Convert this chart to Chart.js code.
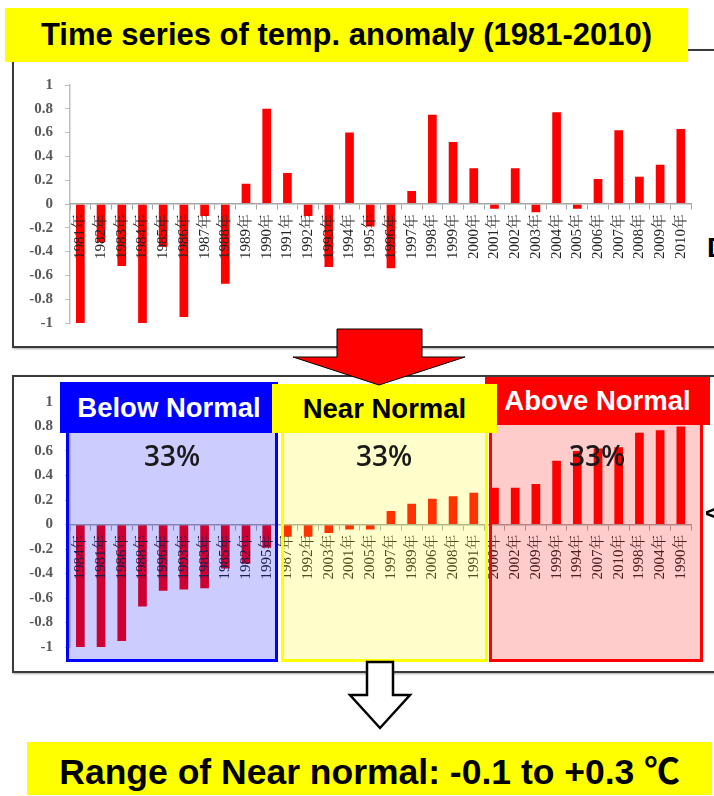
<!DOCTYPE html>
<html>
<head>
<meta charset="utf-8">
<script src="https://cdn.jsdelivr.net/npm/chart.js@4/dist/chart.umd.min.js"></script>
<style>
  html, body { margin: 0; padding: 0; background: #fff; }
  body {
    width: 714px; height: 796px; position: relative; overflow: hidden;
    font-family: 'Liberation Sans', Arial, 'Noto Sans CJK JP', sans-serif;
  }
  .abs { position: absolute; }
  .frame {
    position: absolute; box-sizing: border-box;
    border: 2px solid #3a3a3a; background: #fff;
    box-shadow: 1px 1px 2px rgba(0,0,0,0.35);
  }
  .tag {
    position: absolute; box-sizing: border-box;
    display: flex; align-items: center; justify-content: center;
    font-weight: bold; white-space: nowrap;
  }
  .zone { position: absolute; box-sizing: border-box; border-width: 3px; border-style: solid; }
  .pct {
    position: absolute; width: 100px; margin-left: -50px; text-align: center;
    font-family: 'Open Sans', Lato, sans-serif; font-weight: 600; font-size: 28px; color: #1a1a1a;
    line-height: 30px;
  }
  canvas { position: absolute; }
</style>
</head>
<body>

<!-- upper panel: anomaly by year -->
<div class="frame" style="left:12px; top:49px; width:730px; height:299px;"></div>
<canvas id="series" width="690" height="282" style="left:14px; top:64px;"></canvas>
<div class="tag" style="left:5px; top:8px; width:683px; height:54px; background:#FFFF00; color:#000; font-size:31px;">Time series of temp. anomaly (1981-2010)</div>
<div class="abs" style="left:707px; top:232px; font:bold 28px 'Liberation Sans',sans-serif; color:#000;">D</div>

<!-- lower panel: same years ranked by anomaly -->
<div class="frame" style="left:12px; top:375px; width:730px; height:298px;"></div>
<canvas id="ranked" width="690" height="290" style="left:14px; top:378px;"></canvas>

<div class="zone" style="left:66px; top:382px; width:212px; height:280px; border-color:#0000FF; background:rgba(0,0,255,0.2);"></div>
<div class="zone" style="left:281px; top:386px; width:207px; height:276px; border-color:#FFFF00; background:rgba(255,255,0,0.2);"></div>
<div class="zone" style="left:489px; top:380px; width:214px; height:282px; border-color:#FF0000; background:rgba(255,0,0,0.2);"></div>

<div class="tag" style="left:60px; top:382px; width:218px; height:51px; background:#0000FF; color:#fff; font-size:27.5px;">Below Normal</div>
<div class="tag" style="left:485px; top:377px; width:225px; height:48px; background:#FF0000; color:#fff; font-size:27.5px;">Above Normal</div>
<div class="tag" style="left:272px; top:384px; width:225px; height:49px; background:#FFFF00; color:#000; font-size:27.5px;">Near Normal</div>

<div class="pct" style="left:172px; top:440px;">33%</div>
<div class="pct" style="left:384px; top:440px;">33%</div>
<div class="pct" style="left:597px; top:440px;">33%</div>

<div class="abs" style="left:705px; top:499px; font:bold 24px 'Liberation Sans',sans-serif; color:#000;">&lt;</div>

<!-- arrows between and after the panels -->
<svg class="abs" style="left:0; top:0;" width="714" height="796">
  <polygon points="337,329 422,329 422,357 465,357 379,385 293,357 337,357"
           fill="#FF0000" stroke="#000" stroke-width="1"/>
  <polygon points="367,662 393,662 393,695 410,695 380,728 350,695 367,695"
           fill="#fff" stroke="#000" stroke-width="2.5" stroke-linejoin="miter"/>
</svg>

<div class="tag" style="left:27px; top:742px; width:685px; height:53px; background:#FFFF00; color:#000; font-size:35.5px;">Range of Near normal: -0.1 to +0.3 ℃</div>

<script>
// Yearly temperature anomaly (°C) relative to the 1981-2010 normal
const years = ['1981年','1982年','1983年','1984年','1985年','1986年','1987年','1988年','1989年','1990年',
               '1991年','1992年','1993年','1994年','1995年','1996年','1997年','1998年','1999年','2000年',
               '2001年','2002年','2003年','2004年','2005年','2006年','2007年','2008年','2009年','2010年'];
const anomaly = [-1.00, -0.32, -0.52, -1.01, -0.36, -0.95, -0.10, -0.67, 0.17, 0.80,
                  0.26, -0.10, -0.53, 0.60, -0.19, -0.54, 0.11, 0.75, 0.52, 0.30,
                 -0.04, 0.30, -0.07, 0.77, -0.04, 0.21, 0.62, 0.23, 0.33, 0.63];

// The same years ordered from coldest to warmest (three groups of ten)
const rankedYears = ['1984年','1981年','1986年','1988年','1996年','1993年','1983年','1985年','1982年','1995年',
                     '1987年','1992年','2003年','2001年','2005年','1997年','1989年','2006年','2008年','1991年',
                     '2000年','2002年','2009年','1999年','1994年','2007年','2010年','1998年','2004年','1990年'];
const rankedAnomaly = rankedYears.map(y => anomaly[years.indexOf(y)]);

// y-axis range and tick spacing
const yMin = -1, yMax = 1, yStep = 0.2;

const serif = "'Liberation Serif', 'DejaVu Serif', 'Noto Serif CJK SC', 'Noto Sans CJK SC', serif";

function anomalyChart(id, labels, values, padding) {
  return new Chart(document.getElementById(id), {
    type: 'bar',
    data: {
      labels: labels,
      datasets: [{
        data: values,
        backgroundColor: '#FF0000',
        borderWidth: 0,
        barPercentage: 0.42,
        categoryPercentage: 1
      }]
    },
    options: {
      responsive: false,
      animation: false,
      devicePixelRatio: 1,
      layout: { padding: padding },
      plugins: { legend: { display: false }, tooltip: { enabled: false } },
      scales: {
        x: {
          position: { y: 0 },
          offset: true,
          grid: { offset: true, drawOnChartArea: false, drawTicks: true, tickLength: 5, color: '#A6A6A6' },
          border: { display: true, color: '#A6A6A6', width: 1.5, z: 1 },
          ticks: {
            z: 1,
            autoSkip: false, minRotation: 90, maxRotation: 90, padding: 5,
            color: '#262626', font: { family: serif, size: 15 }
          },
          afterFit: s => { s.height = 0; }
        },
        y: {
          min: yMin, max: yMax,
          ticks: {
            stepSize: yStep, padding: 12, color: '#595959',
            font: { family: serif, size: 15, weight: 'bold' },
            callback: v => String(Math.round(v * 10) / 10)
          },
          grid: { drawOnChartArea: false, drawTicks: true, tickLength: 5, color: '#BFBFBF' },
          border: { display: true, color: '#BFBFBF', width: 1.5 },
          afterFit: s => { s.width = 56; }
        }
      }
    }
  });
}

anomalyChart('series', years, anomaly, { top: 15, right: 10, bottom: 23, left: 0 });
anomalyChart('ranked', rankedYears, rankedAnomaly, { top: 24, right: 10, bottom: 20, left: 0 });
</script>
</body>
</html>
